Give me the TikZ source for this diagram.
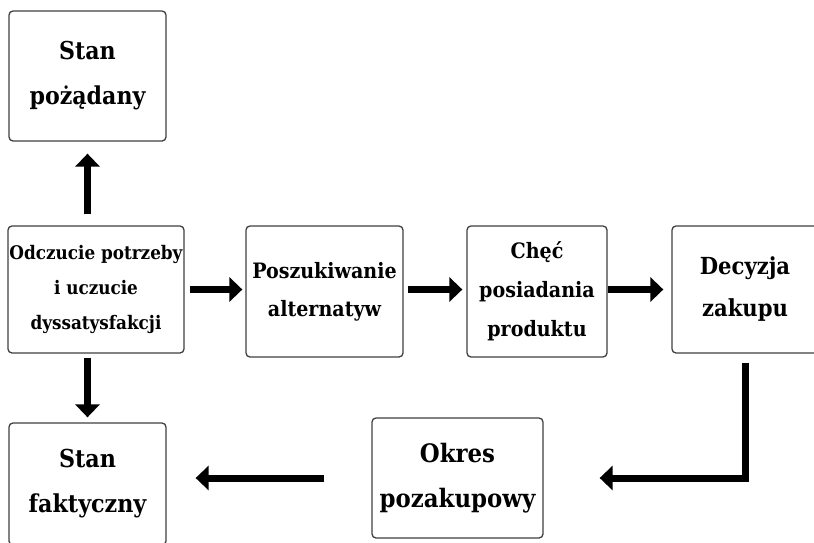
\documentclass[tikz,border=0pt]{standalone}
\usepackage{fontspec}
\setmainfont{DejaVu Serif Condensed}
\usetikzlibrary{arrows.meta}
\tikzset{
  box/.style={draw=black!75, line width=1.3pt, rounded corners=4pt, fill=white, align=center, inner sep=0pt, font=\bfseries},
  arr/.style={line width=7pt, line join=miter, -{Triangle[width=24pt,length=13pt]}},
}
\begin{document}
\begin{tikzpicture}[x=1pt,y=-1pt]
\useasboundingbox (0,0) rectangle (814,542);
\clip (0,0) rectangle (814,542);
\node[box, minimum width=157pt, minimum height=130pt, font=\bfseries\fontsize{24.6}{45}\selectfont] (A) at (87.5,76) {Stan\\pożądany};
\node[box, minimum width=176pt, minimum height=127pt, font=\bfseries\fontsize{18.7}{35}\selectfont] (B) at (96,289.5) {Odczucie potrzeby\\i uczucie\\dyssatysfakcji};
\node[box, minimum width=157pt, minimum height=131pt, font=\bfseries\fontsize{21.2}{38}\selectfont] (C) at (324.5,291.5) {Poszukiwanie\\alternatyw};
\node[box, minimum width=140pt, minimum height=131pt, font=\bfseries\fontsize{21.2}{39}\selectfont] (D) at (537,291.5) {Chęć\\posiadania\\produktu};
\node[box, minimum width=146pt, minimum height=127pt, font=\bfseries\fontsize{23.5}{42}\selectfont] (E) at (745,289.5) {Decyzja\\zakupu};
\node[box, minimum width=171pt, minimum height=120pt, font=\bfseries\fontsize{25.4}{45}\selectfont] (F) at (457.5,478) {Okres\\pozakupowy};
\node[box, minimum width=157pt, minimum height=122pt, font=\bfseries\fontsize{24.7}{45}\selectfont] (G) at (87.5,484) {Stan\\faktyczny};
\draw[arr, shorten <=11pt, shorten >=12pt] (A.south |- B.north) -- (A.south);
\draw[arr, shorten <=4pt, shorten >=5pt] (G.north |- B.south) -- (G.north);
\draw[arr, shorten <=5pt, shorten >=3pt] (B.east) -- (C.west |- B.east);
\draw[arr, shorten <=4pt, shorten >=4pt] (C.east |- B.east) -- (D.west |- B.east);
\draw[arr, shorten <=0pt, shorten >=8pt] (D.east |- B.east) -- (E.west |- B.east);
\draw[arr, shorten <=9pt, shorten >=56pt] (E.south) |- (F.east);
\draw[arr, shorten <=47pt, shorten >=29pt] (F.west) -- (G.east |- F.west);
\end{tikzpicture}
\end{document}
